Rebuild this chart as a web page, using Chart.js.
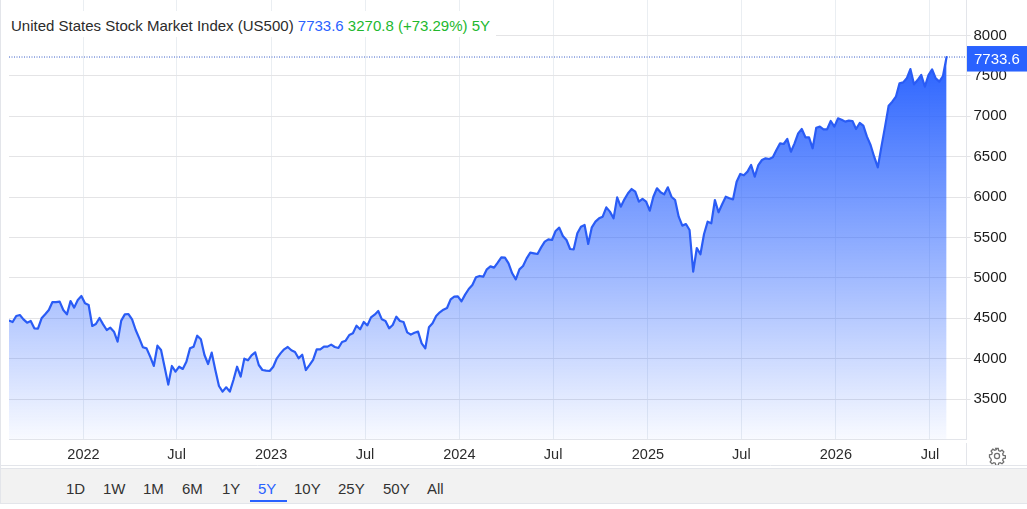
<!DOCTYPE html>
<html><head><meta charset="utf-8">
<style>
html,body{margin:0;padding:0;background:#fff;width:1027px;height:509px;overflow:hidden;font-family:"Liberation Sans",Arial,sans-serif}
#wrap{position:relative;width:1027px;height:509px}
canvas{position:absolute;left:0;top:0}
#edge{position:absolute;left:0;top:0;width:1px;height:504px;background:#e3e5ea}
#title{position:absolute;left:9px;top:11px;width:487px;height:26px;background:#fff;font-size:15px;line-height:30px;color:#2b2b2b;white-space:nowrap;padding-left:2px;box-sizing:border-box}
#title .b{color:#2962ff}#title .g{color:#22b82e}
#bar{position:absolute;left:1px;top:468px;width:1026px;height:36px;background:#f2f2f2;border-top:1px solid #e3e5ea;border-bottom:1px solid #e3e5ea;box-sizing:border-box}
.r{position:absolute;top:11px;font-size:15px;line-height:17px;color:#333;white-space:nowrap}
.r.on{color:#2962ff}
#ul{position:absolute;left:249px;top:31px;width:37px;height:2px;background:#2962ff}
#gear{position:absolute;left:988px;top:447px}
</style></head><body>
<div id="wrap">
<canvas id="c" width="1027" height="466"></canvas>
<div id="edge"></div>
<div id="title"></div>
<div id="bar"></div>
<svg id="gear" width="18" height="18" viewBox="0 0 24 24" fill="none" stroke="#6f6f6f" stroke-width="1.7"><circle cx="12" cy="12" r="3.4"/><path d="M10.3 2h3.4l.5 2.9 2 .9 2.5-1.6 2.4 2.4-1.6 2.5.8 2 2.9.5v3.4l-2.9.5-.8 2 1.6 2.5-2.4 2.4-2.5-1.6-2 .8-.5 3h-3.4l-.5-3-2-.8-2.5 1.6-2.4-2.4 1.6-2.5-.8-2L2 13.7v-3.4l2.9-.5.8-2-1.6-2.5 2.4-2.4 2.5 1.6 2-.9z"/></svg>
</div>
<script src="https://cdn.jsdelivr.net/npm/chart.js@4"></script>
<script>
const closes = [
4471,4454,4529,4541,4487,4446,4467,4376,4372,4500,4550,4603,4702,4700,4706,4603,4549,4714,4632,4726,
4776,4685,4665,4405,4429,4504,4425,4355,4384,4335,4211,4471,4549,4553,4487,4355,4252,4141,4128,4025,
3910,4161,4108,3893,3679,3910,3840,3901,3873,3963,4128,4149,4285,4240,4046,3934,4075,3860,3662,3592,
3646,3592,3736,3901,3778,4000,3980,4042,4079,3922,3860,3852,3848,3901,4005,4066,4116,4145,4104,4083,
4005,4050,3860,3920,3985,4116,4116,4149,4149,4174,4145,4133,4207,4223,4293,4314,4409,4364,4454,4413,
4512,4545,4590,4487,4467,4376,4417,4520,4467,4454,4326,4298,4322,4335,4190,4128,4388,4438,4529,4574,
4607,4628,4735,4768,4772,4710,4793,4863,4912,5007,5024,5015,5106,5143,5127,5189,5255,5250,5180,5057,
4982,5106,5147,5242,5312,5304,5296,5378,5449,5477,5469,5581,5622,5519,5469,5358,5354,5552,5634,5655,
5420,5626,5696,5737,5758,5873,5820,5737,5997,5882,5972,6047,6100,6067,5944,5977,5944,5832,6005,6109,
6059,6034,6121,6005,5964,5758,5647,5667,5593,5077,5370,5292,5543,5696,5675,5964,5812,5911,6005,5985,
5972,6190,6286,6270,6315,6397,6253,6397,6459,6480,6472,6492,6583,6665,6657,6719,6562,6665,6789,6843,
6740,6740,6604,6859,6872,6839,6839,6942,6872,6975,6958,6934,6946,6942,6843,6917,6884,6748,6645,6500,
6368,6624,6872,7132,7181,7243,7408,7420,7470,7585,7396,7449,7511,7367,7511,7581,7470,7429,7499,7733.6
];
const xTickWeeks = [20.58,46.3,72.4,98.35,124.4,150.3,176.5,202.3,228.4,254.4];
const xTickLabels = ["2022","Jul","2023","Jul","2024","Jul","2025","Jul","2026","Jul"];
const yTicks = [3500,4000,4500,5000,5500,6000,6500,7000,7500,8000];
const ranges = ["1D","1W","1M","6M","1Y","5Y","10Y","25Y","50Y","All"];
const rangeLeft = [66,103,143,182,222,258,294,338,383,427];
const seriesName = "United States Stock Market Index (US500)";
const change = "3270.8 (+73.29%) 5Y";
const last = closes[closes.length-1];

document.getElementById('title').innerHTML = seriesName+' <span class="b">'+last.toFixed(1)+'</span> <span class="g">'+change+'</span>';
const bar = document.getElementById('bar');
ranges.forEach((t,i)=>{const d=document.createElement('div');d.className='r'+(t==='5Y'?' on':'');d.textContent=t;d.style.left=(rangeLeft[i]-1)+'px';bar.appendChild(d);});
const ul=document.createElement('div');ul.id='ul';bar.appendChild(ul);

const decor = {
  id:'decor',
  afterDraw(ch){
    const {ctx,scales:{y}}=ch;
    ctx.save();
    ctx.strokeStyle='#e3e5ea';ctx.lineWidth=1;
    ctx.beginPath();ctx.moveTo(966.5,0);ctx.lineTo(966.5,439);ctx.moveTo(966.5,443);ctx.lineTo(966.5,466);
    ctx.moveTo(1,465.5);ctx.lineTo(1027,465.5);ctx.stroke();
    const py=y.getPixelForValue(last);
    ctx.fillStyle='#2962ff';ctx.fillRect(967,py-11,60,25.5);
    ctx.fillStyle='#fff';ctx.font='15px "Liberation Sans",Arial,sans-serif';ctx.textBaseline='middle';ctx.textAlign='left';
    ctx.fillText(last.toFixed(1),974,py+2.5);
    ctx.restore();
  }
};
const cv=document.getElementById('c');
const g=cv.getContext('2d').createLinearGradient(0,57,0,439);
g.addColorStop(0,'rgba(41,98,255,1)');
g.addColorStop(1,'rgba(41,98,255,0.03)');

new Chart(cv,{
  type:'line',
  data:{datasets:[
    {data:closes.map((v,i)=>({x:i,y:v})),borderColor:'#2a5cf5',borderWidth:2.2,borderJoinStyle:'round',borderCapStyle:'round',backgroundColor:g,fill:'start',pointRadius:0,tension:0,order:1},
    {data:[{x:0,y:last},{x:264.5,y:last}],borderColor:'#3a5fc8',borderWidth:1,borderDash:[1,1.5],pointRadius:0,fill:false,order:2}
  ]},
  options:{
    responsive:false,animation:false,
    layout:{padding:{left:9,right:0,top:0,bottom:0}},
    plugins:{legend:{display:false},tooltip:{enabled:false}},
    scales:{
      x:{type:'linear',min:0,max:264.5,
        afterBuildTicks(s){s.ticks=xTickWeeks.map(v=>({value:v}));},
        afterFit(s){s.height=26.5;s.paddingLeft=0;s.paddingRight=0;},
        grid:{color:'#eaeef2',lineWidth:1,drawTicks:false,offset:false},
        border:{color:'#e3e5ea',width:1},
        ticks:{autoSkip:false,maxRotation:0,padding:7,color:'#2b2b2b',font:{family:'"Liberation Sans",Arial,sans-serif',size:14.5},
          callback(v,i){return xTickLabels[i];}}
      },
      y:{type:'linear',position:'right',min:3000,max:8439.4,
        afterBuildTicks(s){s.ticks=yTicks.map(v=>({value:v}));},
        afterFit(s){s.width=60.5;s.paddingTop=0;s.paddingBottom=0;},
        grid:{color:'#e4e4e6',lineWidth:1,tickLength:4},
        border:{display:false},
        ticks:{padding:3,color:'#1c1c1c',font:{family:'"Liberation Sans",Arial,sans-serif',size:15},
          callback(v){return String(v);}}
      }
    }
  },
  plugins:[decor]
});
</script>
</body></html>
